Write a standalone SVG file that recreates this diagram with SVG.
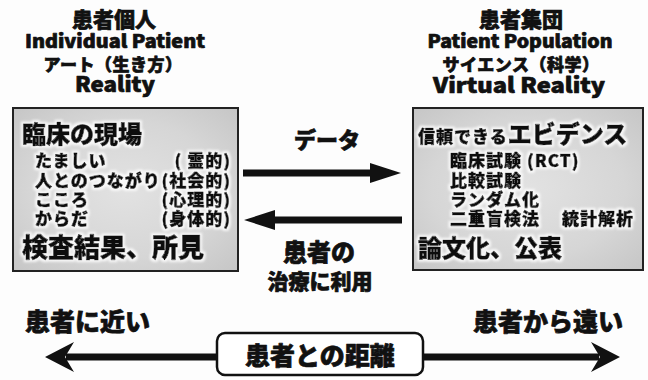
<svg xmlns="http://www.w3.org/2000/svg" width="648" height="380" viewBox="0 0 648 380">
  <style>
    text { font-family: "Noto Sans CJK JP", "Noto Sans", sans-serif; font-weight: 900; fill: #111; stroke: #111; stroke-width: 0.7px; stroke-linejoin: round; }
    .head { font-size: 21px; text-anchor: middle; }
    .en { font-size: 18px; text-anchor: middle; }
    .en-big { font-size: 21px; text-anchor: middle; }
    .sub { font-size: 17px; text-anchor: middle; letter-spacing: 0.5px; }
    .title { font-size: 24px; }
    .item { font-size: 17px; letter-spacing: 1px; }
    .big { font-size: 26px; }
    .halo { filter: url(#glow); }
    .panel { fill: url(#panelFill); stroke: #222; stroke-width: 2; }
    .shaft { stroke: #111; stroke-width: 7; fill: none; }
    .label { text-anchor: middle; }
    .side { font-size: 25px; }
  </style>
  <defs>
    <radialGradient id="panelFill" cx="50%" cy="50%" r="70%">
      <stop offset="0" stop-color="#e2e2e2"/>
      <stop offset="0.6" stop-color="#d6d6d6"/>
      <stop offset="1" stop-color="#c6c6c6"/>
    </radialGradient>
    <!-- soft white glow behind the panel lettering -->
    <filter id="glow" x="-10%" y="-30%" width="120%" height="160%">
      <feMorphology in="SourceAlpha" operator="dilate" radius="2" result="fat"/>
      <feGaussianBlur in="fat" stdDeviation="1.2" result="soft"/>
      <feFlood flood-color="#ffffff" flood-opacity="0.8"/>
      <feComposite in2="soft" operator="in" result="halo"/>
      <feMerge>
        <feMergeNode in="halo"/>
        <feMergeNode in="SourceGraphic"/>
      </feMerge>
    </filter>
    <!-- solid triangular head for the data / feedback arrows -->
    <marker id="tri" viewBox="0 0 31 20" markerWidth="31" markerHeight="20" refX="2" refY="10" orient="auto" markerUnits="userSpaceOnUse">
      <path d="M0,0 L31,10 L0,20 z" fill="#111"/>
    </marker>
    <!-- barbed head for the distance axis -->
    <marker id="barb" viewBox="0 0 29 30" markerWidth="29" markerHeight="30" refX="8" refY="15" orient="auto" markerUnits="userSpaceOnUse">
      <path d="M0,0 L29,15 L0,30 L9,15 z" fill="#111"/>
    </marker>
  </defs>

  <rect width="648" height="380" fill="#fdfdfd"/>

  <!-- column heading: individual patient -->
  <g id="individual-heading">
    <text class="head" x="114" y="27">患者個人</text>
    <text class="en" x="115" y="48" textLength="180" lengthAdjust="spacingAndGlyphs">Individual Patient</text>
    <text class="sub" x="113" y="71">アート（生き方）</text>
    <text class="en-big" x="115" y="92" textLength="80" lengthAdjust="spacingAndGlyphs">Reality</text>
  </g>

  <!-- column heading: patient population -->
  <g id="population-heading">
    <text class="head" x="521" y="27">患者集団</text>
    <text class="en" x="520" y="48" textLength="185" lengthAdjust="spacingAndGlyphs">Patient Population</text>
    <text class="sub" x="521" y="71">サイエンス（科学）</text>
    <text class="en-big" x="519" y="93" textLength="172" lengthAdjust="spacingAndGlyphs">Virtual Reality</text>
  </g>

  <!-- clinical practice panel -->
  <g id="clinical-field">
    <rect class="panel" x="13" y="108" width="225" height="163"/>
    <text class="title halo" x="22" y="143">臨床の現場</text>
    <text class="item halo" x="35" y="167">たましい</text>
    <text class="item halo" x="231" y="167" text-anchor="end">(<tspan dx="5">霊的</tspan>)</text>
    <text class="item halo" x="35" y="187">人とのつながり</text>
    <text class="item halo" x="231" y="187" text-anchor="end">(社会的)</text>
    <text class="item halo" x="35" y="206">こころ</text>
    <text class="item halo" x="231" y="206" text-anchor="end">(心理的)</text>
    <text class="item halo" x="35" y="225">からだ</text>
    <text class="item halo" x="231" y="225" text-anchor="end">(身体的)</text>
    <text class="big halo" x="22" y="257">検査結果、所見</text>
  </g>

  <!-- evidence panel -->
  <g id="evidence">
    <rect class="panel" x="413" y="108" width="230" height="162"/>
    <text class="item halo" x="418" y="143">信頼できる<tspan font-size="24px" letter-spacing="0">エビデンス</tspan></text>
    <text class="item halo" x="450" y="167">臨床試験 (RCT)</text>
    <text class="item halo" x="450" y="187">比較試験</text>
    <text class="item halo" x="450" y="206">ランダム化</text>
    <text class="item halo" x="450" y="225">二重盲検法</text>
    <text class="item halo" x="562" y="225">統計解析</text>
    <text class="title halo" x="418" y="257" font-size="25px">論文化、公表</text>
  </g>

  <!-- distance box on the axis -->
  <g id="distance">
    <rect x="217" y="333" width="206" height="42" rx="8" fill="#fff" stroke="#111" stroke-width="2.5"/>
    <text class="label" x="320" y="365" font-size="25px">患者との距離</text>
  </g>

  <!-- axis end labels -->
  <g id="near-label">
    <text class="side" x="25" y="331">患者に近い</text>
  </g>
  <g id="far-label">
    <text class="side" x="473" y="331">患者から遠い</text>
  </g>

  <!-- arrows -->
  <g id="connectors">
    <line class="shaft" x1="243" y1="173" x2="372" y2="173" marker-end="url(#tri)"/>
    <text class="label" x="327" y="148" font-size="22px">データ</text>
    <line class="shaft" x1="402" y1="220" x2="273" y2="220" marker-end="url(#tri)"/>
    <text class="label" x="319" y="261" font-size="24px">患者の</text>
    <text class="label" x="320" y="289" font-size="21px">治療に利用</text>
    <line class="shaft" x1="217" y1="357" x2="66" y2="357" marker-end="url(#barb)"/>
    <line class="shaft" x1="423" y1="357" x2="599" y2="357" marker-end="url(#barb)"/>
  </g>
</svg>
